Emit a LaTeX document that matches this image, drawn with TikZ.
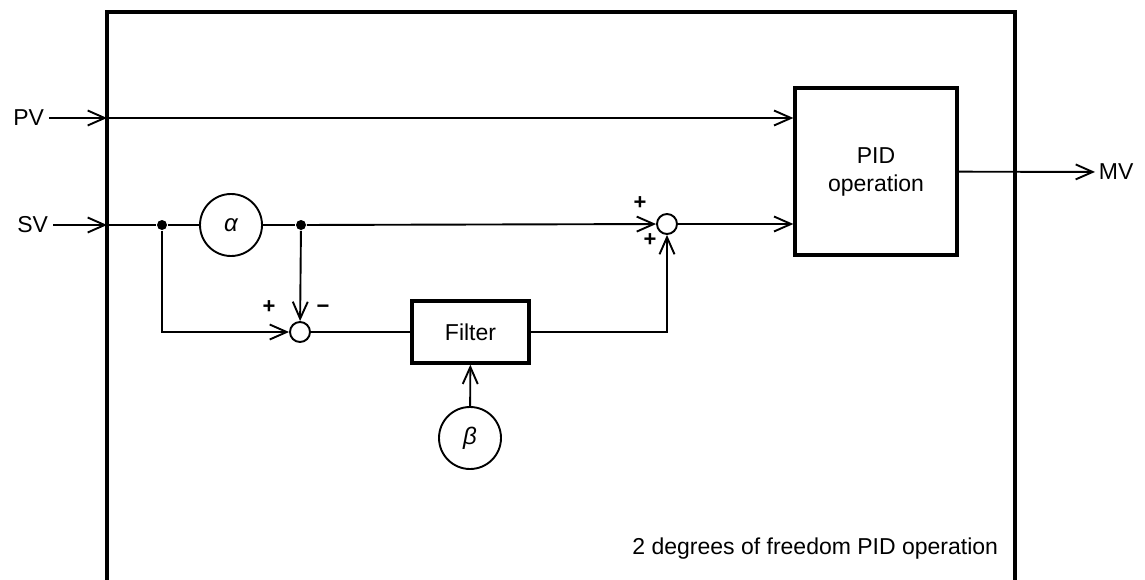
\documentclass[tikz,border=0pt]{standalone}
\usepackage{fontspec}
\setmainfont{Liberation Sans}
\usetikzlibrary{arrows.meta}
\begin{document}
\begin{tikzpicture}[x=1pt,y=-1pt,
  line width=1.9pt,
  arr/.style={-{Straight Barb[length=17pt,width=15pt,line width=1.9pt]}},
  blk/.style={draw,line width=3.3pt,inner sep=0pt,font=\fontsize{23}{28}\selectfont,align=center},
  circ/.style={draw,circle,line width=1.9pt,inner sep=0pt,minimum size=62pt,font=\fontsize{24}{26}\selectfont\itshape},
  sumj/.style={draw,circle,line width=1.9pt,inner sep=0pt,minimum size=20pt},
  dotn/.style={fill,circle,inner sep=0pt,minimum size=10pt},
  lbl/.style={font=\fontsize{23}{26}\selectfont},
  sgn/.style={font=\fontsize{22}{22}\selectfont\bfseries,inner sep=0pt}]

\useasboundingbox (0,0) rectangle (1145,580);

% outer frame
\coordinate (fbl) at (107,580);
\coordinate (ftl) at (107,12);
\coordinate (ftr) at (1015,12);
\coordinate (fbr) at (1015,580);
\draw[line width=3.3pt] (fbl) -- (ftl) -- (ftr) -- (fbr);

% blocks
\node[blk,minimum width=162pt,minimum height=167pt] (pid) at (876,171.5) {PID\\operation};
\node[blk,minimum width=117pt,minimum height=62pt] (filter) at (470.5,332) {Filter};
\node[circ] (alpha) at (231,225) {α};
\node[circ] (beta) at (470,438) {β};
\node[sumj] (sum1) at (300,332) {};
\node[sumj] (sum2) at (667,224) {};
\node[dotn] (d1) at (162,225) {};
\node[dotn] (d2) at (301,225) {};

% inputs / outputs
\node[lbl,anchor=east,inner sep=4pt] (pvl) at (49,118) {PV};
\node[lbl,anchor=east,inner sep=4pt] (svl) at (53,225) {SV};
\node[lbl,anchor=west,inner sep=3pt] (mvl) at (1095,172) {MV};
\coordinate (pvin) at (107,118);
\coordinate (svin) at (107,225);

\draw[arr] (pvl) -- (pvin);
\draw[arr] (pvin) -- (pid.west |- pvin);
\draw[arr] (svl) -- (svin);
\draw (svin) -- (d1) -- (alpha);
\draw (alpha) -- (d2);
\draw[arr] (d2) -- (sum2);
\draw[arr] (sum2) -- (pid.west |- sum2);
\draw[arr] (d1) |- (sum1);
\draw[arr] (d2) -- (sum1);
\draw (sum1) -- (filter);
\draw[arr] (filter) -| (sum2);
\draw[arr] (beta) -- (filter);
\draw[arr] (pid) -- (mvl);

% signs
\node[sgn] (s1p) at (269,307) {+};
\node[sgn] (s1m) at (323,309) {−};
\node[sgn] (s2a) at (640,203) {+};
\node[sgn] (s2b) at (650,240) {+};

\node[lbl,anchor=east,inner sep=0pt] (title) at (999,549) {2 degrees of freedom PID operation};
\end{tikzpicture}
\end{document}
